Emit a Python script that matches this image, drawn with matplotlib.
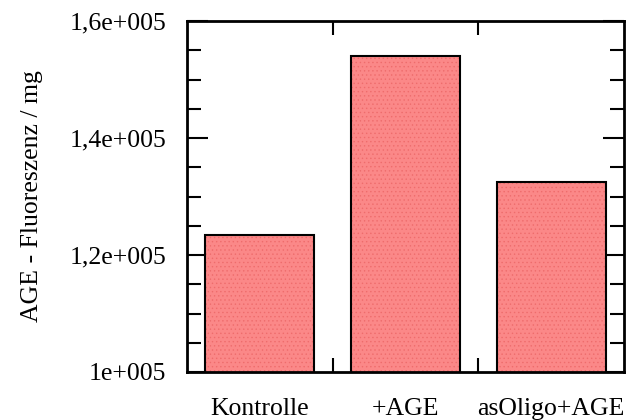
import matplotlib
matplotlib.use("Agg")
import matplotlib.pyplot as plt
from matplotlib.ticker import FixedLocator, MultipleLocator, FuncFormatter


categories = ["Kontrolle", "+AGE", "asOligo+AGE"]
fluorescence = [123400, 154100, 132500]

y_major = [100000, 120000, 140000, 160000]
y_labels = ["1e+005", "1,2e+005", "1,4e+005", "1,6e+005"]


def main():
    plt.rcParams["font.family"] = ["Liberation Serif", "DejaVu Serif"]
    plt.rcParams["hatch.linewidth"] = 0.5

    fig = plt.figure(figsize=(6.26, 4.2), dpi=100)
    ax = fig.add_axes([187 / 626, 48 / 420, 437 / 626, 351 / 420])

    x = list(range(len(categories)))
    # fill with a fine dotted texture, then the black outline on top
    ax.bar(x, fluorescence, width=0.75, color="#fb8888", edgecolor="#ee6c6c",
           linewidth=0, hatch="....", zorder=2)
    ax.bar(x, fluorescence, width=0.75, fill=False, edgecolor="black",
           linewidth=1.5, zorder=3)

    ax.set_xlim(-0.5, 2.5)
    ax.set_ylim(100000, 160000)

    # category labels sit under the bars, tick marks go between them
    ax.xaxis.set_major_locator(FixedLocator(x))
    ax.set_xticklabels(categories)
    ax.xaxis.set_minor_locator(FixedLocator([0.5, 1.5]))
    ax.tick_params(axis="x", which="major", length=0, pad=19, labelsize=18.5)
    ax.tick_params(axis="x", which="minor", direction="in", length=10,
                   width=1.5, top=True, bottom=True)

    ax.yaxis.set_major_locator(FixedLocator(y_major))
    ax.yaxis.set_major_formatter(FuncFormatter(
        lambda v, pos: y_labels[y_major.index(round(v))] if round(v) in y_major else ""))
    ax.yaxis.set_minor_locator(MultipleLocator(5000))
    ax.tick_params(axis="y", which="major", direction="in", length=15,
                   width=1.5, left=True, right=True, pad=15, labelsize=18.5)
    ax.tick_params(axis="y", which="minor", direction="in", length=10,
                   width=1.5, left=True, right=True)

    for s in ax.spines.values():
        s.set_linewidth(2)

    ax.set_ylabel("AGE - Fluoreszenz / mg", fontsize=18.5)
    ax.yaxis.label.set_va("center")
    ax.yaxis.set_label_coords(-0.355, 0.5)

    fig.savefig("out.png", dpi=100)


if __name__ == '__main__':
    main()
